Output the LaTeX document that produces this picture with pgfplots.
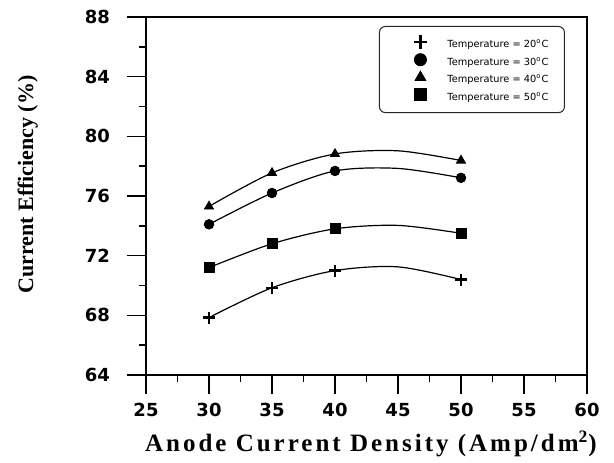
\documentclass[border=0pt]{standalone}
\usepackage{fontspec}
\setmainfont{Liberation Serif}
\setsansfont{Liberation Sans}
\newfontfamily\tickfont{DejaVu Sans}
\usepackage{pgfplots}
\pgfplotsset{compat=1.18}
\begin{document}
\begin{tikzpicture}
\useasboundingbox (0,0) rectangle (307pt,231pt);
\begin{axis}[
    at={(73pt,43.5pt)}, anchor=south west,
    scale only axis, width=220.5pt, height=179pt,
    xmin=25, xmax=60, ymin=64, ymax=88,
    xtick={25,30,...,60}, ytick={64,68,...,88},
    minor x tick num=1, minor y tick num=1,
    tick align=outside, tick pos=left,
    major tick length=9.5pt, minor tick length=3.5pt,
    axis line style={line width=0.7pt},
    tick style={black, line width=0.7pt},
    /pgf/number format/assume math mode=true,
    tick label style={font=\tickfont\bfseries\fontsize{9}{9}\selectfont},
    yticklabel style={xshift=-5pt},
    xticklabel style={yshift=-1pt},
    xlabel={Anode Current Density (Amp/dm\textsuperscript{2})},
    ylabel={Current Efficiency (\%)},
    every axis x label/.style={at={(axis description cs:0.51,-0.213)}, anchor=base,
        font=\addfontfeatures{LetterSpace=12}\bfseries\fontsize{12.5}{12.5}\selectfont},
    every axis y label/.style={at={(axis description cs:-0.268,0.532)}, rotate=90, anchor=center,
        font=\bfseries\fontsize{11}{11}\selectfont},
    legend style={at={(0.950,0.975)}, anchor=north east, draw=black!85, line width=0.5pt,
        rounded corners=3pt, font=\tickfont\fontsize{4.9}{5}\selectfont,
        inner xsep=8pt, inner ysep=4.5pt, row sep=1.5pt,
        nodes={inner sep=0pt},
        /tikz/every odd column/.append style={column sep=9pt}},
    legend cell align=left,
    legend image code/.code={%
        \path[draw=none, fill=none] (0pt,-1.4pt) rectangle (17pt,4.6pt);
        \draw[#1] plot coordinates {(12.5pt,1.6pt)};},
    fitline/.style={black, line width=0.6pt, smooth, no marks, forget plot},
    pts/.style={black, only marks, forget plot},
]
% fitted curves (incl. x = 45)
\addplot[fitline] coordinates {(30,67.85)(35,69.85)(40,71.0)(45,71.25)(50,70.4)};
\addplot[fitline] coordinates {(30,74.1)(35,76.2)(40,77.68)(45,77.85)(50,77.22)};
\addplot[fitline] coordinates {(30,75.3)(35,77.55)(40,78.82)(45,79.03)(50,78.38)};
\addplot[fitline] coordinates {(30,71.2)(35,72.8)(40,73.8)(45,74.03)(50,73.5)};

% measured points
\addplot[pts, mark=+, mark size=3pt, mark options={line width=1.1pt}]
    coordinates {(30,67.85)(35,69.85)(40,71.0)(50,70.4)};
\addplot[pts, mark=*, mark size=2.4pt]
    coordinates {(30,74.1)(35,76.2)(40,77.68)(50,77.22)};
\addplot[pts, mark=triangle*, mark size=2.6pt]
    coordinates {(30,75.3)(35,77.55)(40,78.82)(50,78.38)};
\addplot[pts, mark=square*, mark size=2.5pt]
    coordinates {(30,71.2)(35,72.8)(40,73.8)(50,73.5)};

\addlegendimage{only marks, black, mark=+, mark size=3.3pt, mark options={line width=1.4pt}}
\addlegendentry{Temperature = 20\textsuperscript{o}C}
\addlegendimage{only marks, black, mark=*, mark size=3pt}
\addlegendentry{Temperature = 30\textsuperscript{o}C}
\addlegendimage{only marks, black, mark=triangle*, mark size=3pt}
\addlegendentry{Temperature = 40\textsuperscript{o}C}
\addlegendimage{only marks, black, mark=square*, mark size=3pt}
\addlegendentry{Temperature = 50\textsuperscript{o}C}
\end{axis}
\end{tikzpicture}
\end{document}
